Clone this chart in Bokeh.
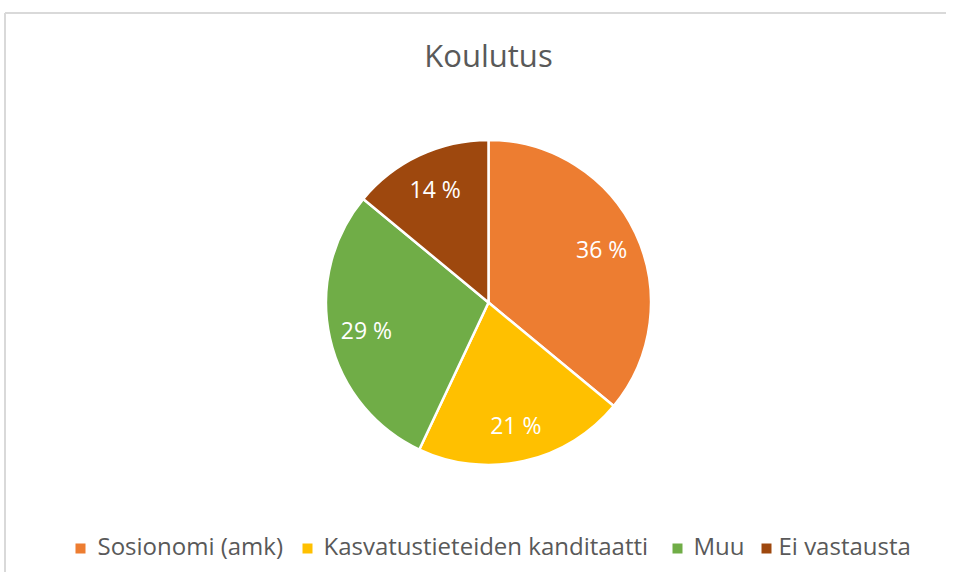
import numpy as np
from bokeh.plotting import figure
from bokeh.models import Range1d, ColumnDataSource
from bokeh.core.properties import value
from bokeh.embed import file_html
from bokeh.resources import INLINE

# ---- data ----
title_text = "Koulutus"
categories = ["Sosionomi (amk)", "Kasvatustieteiden kanditaatti", "Muu", "Ei vastausta"]
percents = [36, 21, 29, 14]
colors = ["#ED7D31", "#FFC000", "#70AD47", "#9E480E"]

# ---- layout (pixel-like data space) ----
W, H = 946, 572
cx, cy, R = 488, 270, 162.5
label_r = 0.77 * R
legend_square_x = [80, 307, 677, 766]
legend_text_x = [97, 323, 693, 778]
legend_y = 24
legend_text_y = 27
title_y = 518
text_color = "#595959"
font = value("Open Sans")

p = figure(width=W, height=H, x_range=Range1d(0, W), y_range=Range1d(0, H),
           output_backend="svg", toolbar_location=None,
           x_axis_type=None, y_axis_type=None, min_border=0,
           background_fill_color="white", border_fill_color="white")
p.outline_line_color = None
p.grid.visible = False

# chart border (top and left edges visible)
bx, by = 4.5, H - 12.5
p.multi_line(xs=[[bx, W + 20], [bx, bx]], ys=[[by, by], [by, -20]],
             line_color="#D9D9D9", line_width=2)

# pie wedges
vals = np.array(percents, dtype=float)
total = vals.sum()
cum = np.concatenate([[0], np.cumsum(vals)])
starts = np.pi / 2 - 2 * np.pi * cum[:-1] / total
ends = np.pi / 2 - 2 * np.pi * cum[1:] / total
mids = (starts + ends) / 2

src = ColumnDataSource(dict(
    start=starts, end=ends, color=colors, cat=categories,
    lx=cx + label_r * np.cos(mids), ly=cy + label_r * np.sin(mids),
    lab=[f"{v} %" for v in percents],
))
p.wedge(x=cx, y=cy, radius=R, start_angle="start", end_angle="end",
        direction="clock", fill_color="color", line_color="white",
        line_width=2.5, source=src)

p.text(x="lx", y="ly", text="lab", source=src, text_color="white",
       text_font=font, text_font_size="23px", text_align="center",
       text_baseline="middle")

# title
p.text(x=[cx], y=[title_y], text=[title_text], text_color=text_color,
       text_font=font, text_font_size="31px", text_align="center",
       text_baseline="alphabetic")

# legend
leg = ColumnDataSource(dict(sx=legend_square_x, tx=legend_text_x,
                            sy=[legend_y] * 4, ty=[legend_text_y] * 4,
                            color=colors, cat=categories))
p.scatter(x="sx", y="sy", marker="square", size=10, fill_color="color",
          line_color=None, source=leg)
p.text(x="tx", y="ty", text="cat", source=leg, text_color=text_color,
       text_font=font, text_font_size="24px", text_align="left",
       text_baseline="alphabetic")

open("out.html", "w").write(file_html(p, INLINE))
